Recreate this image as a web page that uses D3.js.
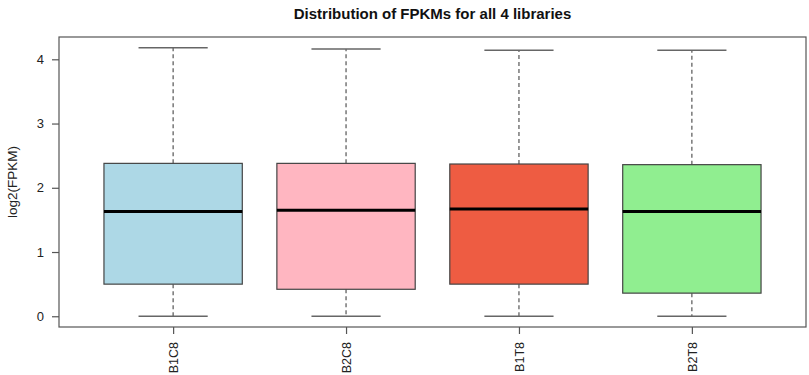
<!DOCTYPE html>
<html lang="en">
<head>
  <meta charset="UTF-8">
  <title>Distribution of FPKMs</title>
  <script src="https://d3js.org/d3.v7.min.js"></script>
  <style>
    body {
      margin: 0;
      padding: 0;
      background: #fff;
      font-family: "Liberation Sans", Arial, sans-serif;
    }
  </style>
</head>
<body>
  <svg id="chart" width="809" height="375"></svg>

  <script>
    const libraries = ["B1C8", "B2C8", "B1T8", "B2T8"];
    const lowerWhisker = [0, 0, 0, 0];
    const q1 = [0.50, 0.42, 0.50, 0.36];
    const medians = [1.63, 1.65, 1.67, 1.63];
    const q3 = [2.38, 2.38, 2.37, 2.36];
    const upperWhisker = [4.18, 4.16, 4.14, 4.14];
    const fills = ["#ADD8E6", "#FFB6C1", "#EE5C42", "#90EE90"];
    const yTicks = [0, 1, 2, 3, 4];

    const boxes = libraries.map((name, i) => ({
      name, pos: i + 1,
      lo: lowerWhisker[i], q1: q1[i], med: medians[i], q3: q3[i], hi: upperWhisker[i],
      fill: fills[i]
    }));

    const svg = d3.select("#chart");
    const plot = { left: 59, right: 806, top: 37, bottom: 327 };

    // R style 4% padding on both axes
    const n = libraries.length;
    const xPad = n * 0.04;
    const x = d3.scaleLinear()
      .domain([0.5 - xPad, n + 0.5 + xPad])
      .range([plot.left, plot.right]);

    const yMin = d3.min(lowerWhisker), yMax = d3.max(upperWhisker);
    const yPad = (yMax - yMin) * 0.04;
    const y = d3.scaleLinear()
      .domain([yMin - yPad, yMax + yPad])
      .range([plot.bottom, plot.top]);

    const boxW = 0.8, capW = 0.4;

    // frame
    svg.append("rect")
      .attr("x", plot.left).attr("y", plot.top)
      .attr("width", plot.right - plot.left).attr("height", plot.bottom - plot.top)
      .attr("fill", "none").attr("stroke", "#555").attr("stroke-width", 1.2);

    const g = svg.append("g");
    const box = g.selectAll("g.box").data(boxes).join("g").attr("class", "box");

    // whiskers
    box.append("line")
      .attr("x1", d => x(d.pos)).attr("x2", d => x(d.pos))
      .attr("y1", d => y(d.q3)).attr("y2", d => y(d.hi))
      .attr("stroke", "#555").attr("stroke-width", 1.2).attr("stroke-dasharray", "4,3");
    box.append("line")
      .attr("x1", d => x(d.pos)).attr("x2", d => x(d.pos))
      .attr("y1", d => y(d.q1)).attr("y2", d => y(d.lo))
      .attr("stroke", "#555").attr("stroke-width", 1.2).attr("stroke-dasharray", "4,3");

    // caps
    box.append("line")
      .attr("x1", d => x(d.pos - capW / 2)).attr("x2", d => x(d.pos + capW / 2))
      .attr("y1", d => y(d.hi)).attr("y2", d => y(d.hi))
      .attr("stroke", "#666").attr("stroke-width", 1.5);
    box.append("line")
      .attr("x1", d => x(d.pos - capW / 2)).attr("x2", d => x(d.pos + capW / 2))
      .attr("y1", d => y(d.lo)).attr("y2", d => y(d.lo))
      .attr("stroke", "#666").attr("stroke-width", 1.5);

    // boxes
    box.append("rect")
      .attr("x", d => x(d.pos - boxW / 2))
      .attr("width", d => x(d.pos + boxW / 2) - x(d.pos - boxW / 2))
      .attr("y", d => y(d.q3))
      .attr("height", d => y(d.q1) - y(d.q3))
      .attr("fill", d => d.fill)
      .attr("stroke", "#444").attr("stroke-width", 1.2);

    // medians
    box.append("line")
      .attr("x1", d => x(d.pos - boxW / 2)).attr("x2", d => x(d.pos + boxW / 2))
      .attr("y1", d => y(d.med)).attr("y2", d => y(d.med))
      .attr("stroke", "#000").attr("stroke-width", 3);

    // y axis
    const yAxis = svg.append("g")
      .attr("transform", `translate(${plot.left},0)`)
      .call(d3.axisLeft(y).tickValues(yTicks).tickSize(7).tickPadding(8).tickFormat(d3.format("d")));
    yAxis.select(".domain").remove();
    yAxis.selectAll("line").attr("stroke", "#555").attr("stroke-width", 1.2);
    yAxis.selectAll("text")
      .attr("font-family", "Liberation Sans, Arial, sans-serif")
      .attr("font-size", 13).attr("fill", "#222");

    // x axis
    const xAxis = svg.append("g")
      .attr("transform", `translate(0,${plot.bottom})`)
      .call(d3.axisBottom(x).tickValues(boxes.map(d => d.pos)).tickSize(7)
        .tickFormat((d, i) => libraries[i]));
    xAxis.select(".domain").remove();
    xAxis.selectAll("line").attr("stroke", "#555").attr("stroke-width", 1.2);
    xAxis.selectAll("text")
      .attr("font-family", "Liberation Sans, Arial, sans-serif")
      .attr("font-size", 12.5).attr("fill", "#222")
      .attr("transform", "rotate(-90)")
      .attr("x", -15).attr("y", 0).attr("dy", "0.35em")
      .style("text-anchor", "end");

    // y label
    svg.append("text")
      .attr("transform", `translate(17,${(plot.top + plot.bottom) / 2}) rotate(-90)`)
      .attr("text-anchor", "middle")
      .attr("font-size", 13.5).attr("fill", "#222")
      .text("log2(FPKM)");

    // title
    svg.append("text")
      .attr("x", (plot.left + plot.right) / 2).attr("y", 19)
      .attr("text-anchor", "middle")
      .attr("font-size", 15).attr("font-weight", "bold").attr("fill", "#111")
      .text("Distribution of FPKMs for all 4 libraries");
  </script>
</body>
</html>
